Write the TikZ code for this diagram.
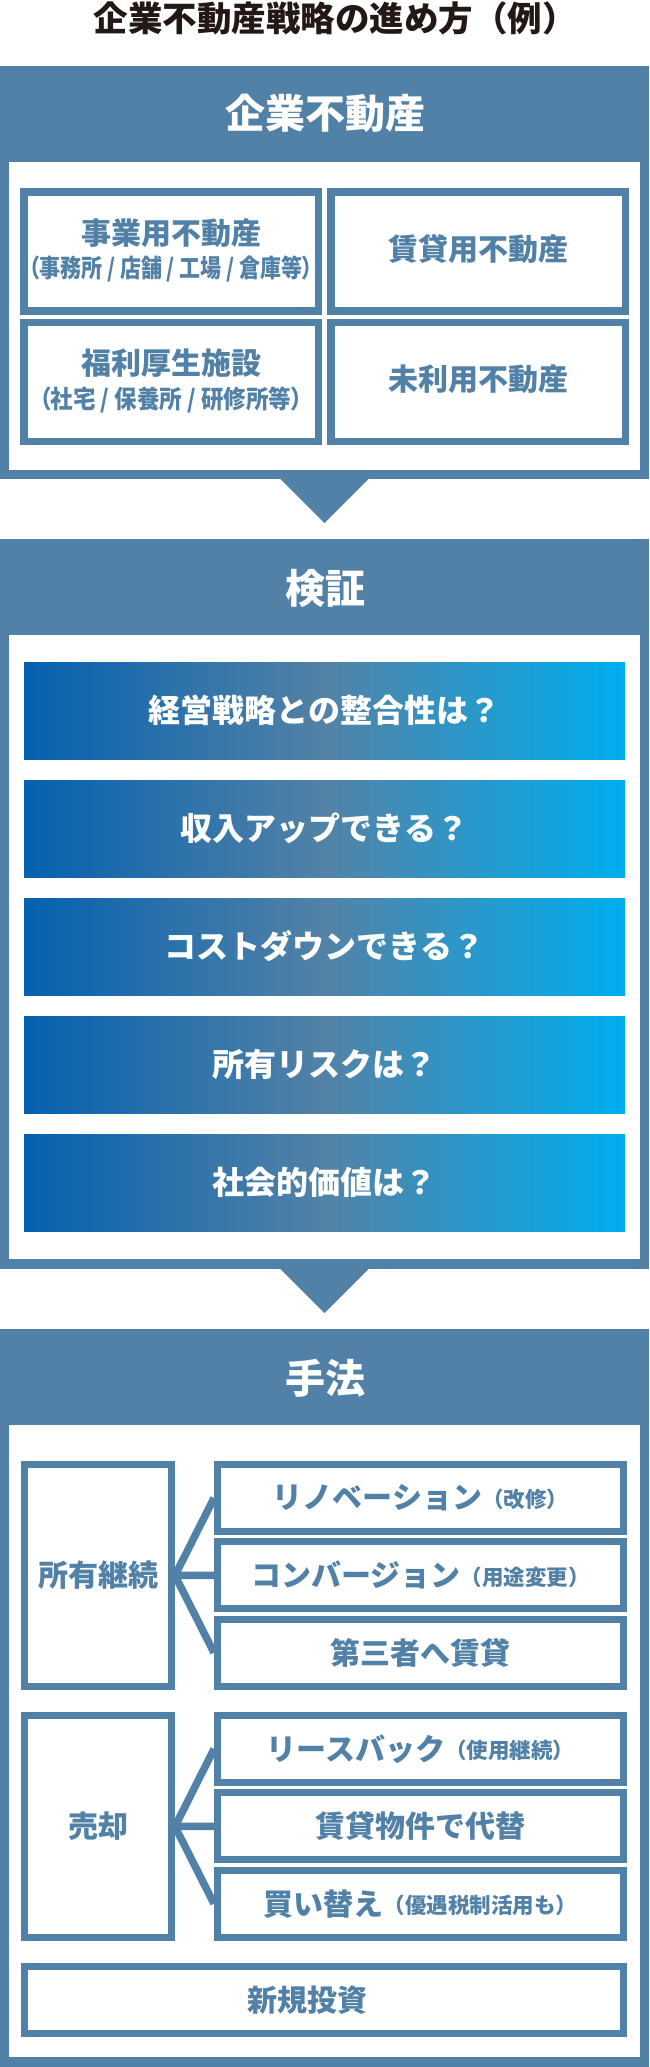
\documentclass[tikz,border=0pt]{standalone}
\usepackage{fontspec}
\setmainfont{Noto Sans CJK JP}
\definecolor{frameblue}{HTML}{5181A7}
\definecolor{gradL}{HTML}{0561AF}
\definecolor{gradM}{HTML}{5382A6}
\definecolor{gradR}{HTML}{00AEEF}
\definecolor{titleblack}{HTML}{231815}
\begin{document}
\begin{tikzpicture}[x=1pt,y=-1pt,
  sect/.style={fill=frameblue, draw=none, inner sep=0pt, minimum width=649pt},
  innerw/.style={fill=white, draw=none, inner sep=0pt, minimum width=631pt},
  head/.style={text=white, font=\bfseries\fontsize{40}{48}\selectfont, inner sep=0pt},
  gbox/.style={draw=frameblue, line width=7.5pt, fill=white, inner sep=0pt, minimum width=294.5pt, minimum height=119pt},
  gtext/.style={text=frameblue, font=\bfseries\fontsize{30}{36}\selectfont, inner sep=0pt},
  gsub/.style={text=frameblue, font=\bfseries\fontsize{25}{30}\selectfont\addfontfeatures{RawFeature=+palt}, inner sep=0pt},
  bar/.style={left color=gradL, right color=gradR, middle color=gradM, draw=none, minimum width=601pt, minimum height=97pt, inner sep=0pt, text=white, font=\bfseries\fontsize{32}{38}\selectfont},
  lbox/.style={draw=frameblue, line width=7pt, fill=white, inner sep=0pt, minimum width=147pt, minimum height=222pt, text=frameblue, font=\bfseries\fontsize{30}{36}\selectfont},
  rbox/.style={draw=frameblue, line width=7pt, fill=white, inner sep=0pt, minimum width=406pt, minimum height=67.3pt},
  rtext/.style={text=frameblue, font=\bfseries\fontsize{30}{36}\selectfont, inner sep=0pt},
  link/.style={draw=frameblue, line width=7.5pt},
  arrowtri/.style={fill=frameblue, draw=none}
]
\newcommand{\paren}[1]{\raisebox{1.5pt}{\fontsize{21.5}{25}\selectfont #1}}
\useasboundingbox (0,0) rectangle (649,2067);
\fill[white] (0,0) rectangle (649,2067);

% title
\node[text=titleblack, font=\bfseries\fontsize{34.5}{40}\selectfont, inner sep=0pt] (title) at (335,18) {企業不動産戦略の進め方（例）};

% ---------- section 1 ----------
\node[sect, minimum height=413pt] (s1) at (324.5,272.5) {};
\node[head] (h1) at (325,113) {企業不動産};
\node[innerw, minimum height=308pt] (w1) at (324.5,316) {};
\node[gbox] (b1) at (171,251.5) {};
\node[gbox] (b2) at (478,251.5) {};
\node[gbox] (b3) at (171,382) {};
\node[gbox] (b4) at (478,382) {};
\node[gtext] (b1t) at (171,233) {事業用不動産};
\node[gsub] (b1s) at (171,268.5) {\scalebox{0.84}[1]{（事務所 / 店舗 / 工場 / 倉庫等）}};
\node[gtext] (b2t) at (478,249) {賃貸用不動産};
\node[gtext] (b3t) at (171,363) {福利厚生施設};
\node[gsub] (b3s) at (171,399.5) {\scalebox{0.9}[1]{（社宅 / 保養所 / 研修所等）}};
\node[gtext] (b4t) at (478,379) {未利用不動産};

\fill[arrowtri] ([xshift=-44.5pt,yshift=0.5pt]s1.south) -- ([xshift=44.5pt,yshift=0.5pt]s1.south) -- ([yshift=-44pt]s1.south) -- cycle;

% ---------- section 2 ----------
\node[sect, minimum height=730pt] (s2) at (324.5,904) {};
\node[head] (h2) at (325,588) {検証};
\node[innerw, minimum height=624pt] (w2) at (324.5,947) {};
\node[bar] (q1) at (324.5,710.5) {経営戦略との整合性は？};
\node[bar] (q2) at (324.5,828.5) {収入アップできる？};
\node[bar] (q3) at (324.5,946.5) {コストダウンできる？};
\node[bar] (q4) at (324.5,1064.5) {所有リスクは？};
\node[bar] (q5) at (324.5,1182.5) {社会的価値は？};

\fill[arrowtri] ([xshift=-44.5pt,yshift=0.5pt]s2.south) -- ([xshift=44.5pt,yshift=0.5pt]s2.south) -- ([yshift=-44pt]s2.south) -- cycle;

% ---------- section 3 ----------
\node[sect, minimum height=738pt] (s3) at (324.5,1698) {};
\node[head] (h3) at (325,1378) {手法};
\node[innerw, minimum height=632pt] (w3) at (324.5,1741) {};

\node[lbox] (L1) at (98,1575.5) {所有継続};
\node[rbox] (R1) at (420.5,1498) {};
\node[rbox] (R2) at (420.5,1575.3) {};
\node[rbox] (R3) at (420.5,1652.7) {};
\node[rtext] (R1t) at (R1.center) {リノベーション\paren{（改修）}};
\node[rtext] (R2t) at (R2.center) {コンバージョン\paren{（用途変更）}};
\node[rtext] (R3t) at (R3.center) {第三者へ賃貸};

\node[lbox] (L2) at (98,1826.5) {売却};
\node[rbox] (R4) at (420.5,1749) {};
\node[rbox] (R5) at (420.5,1826.3) {};
\node[rbox] (R6) at (420.5,1903.7) {};
\node[rtext] (R4t) at (R4.center) {リースバック\paren{（使用継続）}};
\node[rtext] (R5t) at (R5.center) {賃貸物件で代替};
\node[rtext] (R6t) at (R6.center) {買い替え\paren{（優遇税制活用も）}};

\node[rbox, minimum width=599pt, minimum height=67pt] (N) at (324,2000) {};
\node[rtext] (Nt) at (307,2000) {新規投資};

\draw[link] (L1.east) -- (R1.west);
\draw[link] (L1.east) -- (R2.west);
\draw[link] (L1.east) -- (R3.west);
\draw[link] (L2.east) -- (R4.west);
\draw[link] (L2.east) -- (R5.west);
\draw[link] (L2.east) -- (R6.west);
\end{tikzpicture}
\end{document}
